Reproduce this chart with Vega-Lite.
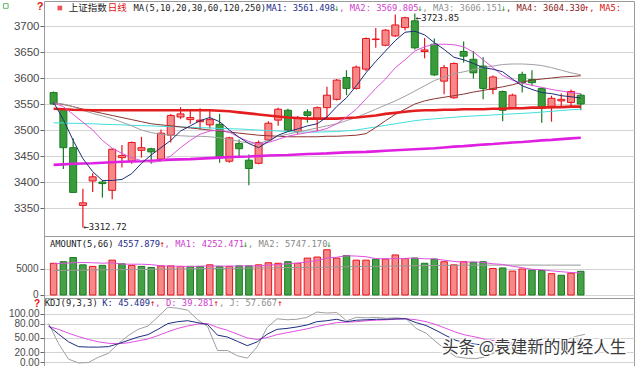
{
"$schema":"https://vega.github.io/schema/vega-lite/v6.json",
"background":"white","padding":0,"spacing":0,"bounds":"flush",
"config":{"view":{"stroke":"#9a9a9a"},"axis":{"grid":true,"gridColor":"#d4d4d4","domain":false,"tickColor":"#666","tickSize":4,"labelColor":"#4a4a4a","labelFont":"Liberation Sans","labelFontSize":11,"labelPadding":1,"labelOverlap":false,"labelFlush":false,"labelBound":false}},
"datasets":{"k":[
{"i":1,"o":3572,"h":3574,"l":3548,"c":3550,"v":6100,"m5":3553,"m10":3552,"m20":3552,"m30":3553,"m60":3541,"m120":3514,"m250":3433,"vm5":6000,"vm66":4700,"K":75,"D":74,"J":80},
{"i":2,"o":3540,"h":3542,"l":3425,"c":3466,"v":6400,"m5":3520,"m10":3545,"m20":3550,"m30":3549,"m60":3540,"m120":3513.5,"m250":3434,"vm5":6100,"vm66":4720,"K":58,"D":68,"J":38},
{"i":3,"o":3466,"h":3484,"l":3380,"c":3380,"v":7200,"m5":3480,"m10":3530,"m20":3545,"m30":3545,"m60":3539,"m120":3513,"m250":3435,"vm5":6200,"vm66":4750,"K":42,"D":60,"J":6},
{"i":4,"o":3355,"h":3387,"l":3312.72,"c":3360,"v":5800,"m5":3445,"m10":3515,"m20":3538,"m30":3540,"m60":3538.5,"m120":3512.5,"m250":3435.5,"vm5":6250,"vm66":4770,"K":32,"D":53,"J":-2},
{"i":5,"o":3402,"h":3417,"l":3381,"c":3410,"v":5500,"m5":3420,"m10":3500,"m20":3532,"m30":3536,"m60":3538,"m120":3512,"m250":3436,"vm5":6200,"vm66":4800,"K":31,"D":47,"J":-1},
{"i":6,"o":3400,"h":3404,"l":3370,"c":3397,"v":5700,"m5":3403,"m10":3480,"m20":3527,"m30":3532,"m60":3538,"m120":3511,"m250":3437,"vm5":6120,"vm66":4820,"K":31,"D":42,"J":10},
{"i":7,"o":3384,"h":3465,"l":3367,"c":3463,"v":6700,"m5":3403,"m10":3465,"m20":3522,"m30":3528,"m60":3538,"m120":3510.5,"m250":3438,"vm5":6180,"vm66":4840,"K":32,"D":39,"J":18},
{"i":8,"o":3447,"h":3471,"l":3428,"c":3451,"v":6000,"m5":3405,"m10":3455,"m20":3515,"m30":3524,"m60":3538,"m120":3510,"m250":3439,"vm5":5940,"vm66":4870,"K":38,"D":38,"J":38},
{"i":9,"o":3440,"h":3478,"l":3435,"c":3476,"v":5700,"m5":3416,"m10":3447,"m20":3508,"m30":3520,"m60":3538,"m120":3509,"m250":3439.5,"vm5":5920,"vm66":4890,"K":45,"D":40,"J":55},
{"i":10,"o":3461,"h":3487,"l":3447,"c":3466,"v":5500,"m5":3436,"m10":3441,"m20":3500,"m30":3516,"m60":3538,"m120":3508.5,"m250":3440,"vm5":5920,"vm66":4910,"K":52,"D":44,"J":68},
{"i":11,"o":3464,"h":3466,"l":3435,"c":3458,"v":5300,"m5":3452,"m10":3438,"m20":3495,"m30":3512,"m60":3538,"m120":3508,"m250":3441,"vm5":5840,"vm66":4940,"K":57,"D":48,"J":75},
{"i":12,"o":3444,"h":3501,"l":3442,"c":3494,"v":5600,"m5":3466,"m10":3440,"m20":3492,"m30":3510,"m60":3538,"m120":3507,"m250":3442,"vm5":5620,"vm66":4960,"K":68,"D":55,"J":94},
{"i":13,"o":3490,"h":3531,"l":3476,"c":3528,"v":5600,"m5":3480,"m10":3450,"m20":3490,"m30":3508,"m60":3538,"m120":3506.5,"m250":3443,"vm5":5540,"vm66":4990,"K":80,"D":63,"J":114},
{"i":14,"o":3525,"h":3544,"l":3521,"c":3531,"v":5500,"m5":3498,"m10":3466,"m20":3489,"m30":3506,"m60":3538,"m120":3506,"m250":3443.5,"vm5":5500,"vm66":5010,"K":84,"D":70,"J":112},
{"i":15,"o":3520,"h":3538,"l":3512,"c":3524,"v":5500,"m5":3508,"m10":3480,"m20":3488,"m30":3504,"m60":3538,"m120":3505,"m250":3444,"vm5":5500,"vm66":5030,"K":86,"D":75,"J":108},
{"i":16,"o":3516,"h":3542,"l":3501,"c":3519,"v":5500,"m5":3518,"m10":3492,"m20":3488,"m30":3502,"m60":3538,"m120":3504.5,"m250":3445,"vm5":5540,"vm66":5060,"K":82,"D":79,"J":88},
{"i":17,"o":3510,"h":3540,"l":3503,"c":3520,"v":5800,"m5":3524,"m10":3498,"m20":3487,"m30":3500,"m60":3538,"m120":3504,"m250":3446,"vm5":5580,"vm66":5080,"K":78,"D":80,"J":74},
{"i":18,"o":3511,"h":3531,"l":3437,"c":3447,"v":5500,"m5":3516,"m10":3500,"m20":3485,"m30":3498,"m60":3537,"m120":3503,"m250":3447,"vm5":5560,"vm66":5100,"K":56,"D":72,"J":24},
{"i":19,"o":3440,"h":3487,"l":3437,"c":3485,"v":5500,"m5":3500,"m10":3496,"m20":3482,"m30":3496,"m60":3536,"m120":3502.5,"m250":3448,"vm5":5560,"vm66":5130,"K":52,"D":66,"J":24},
{"i":20,"o":3474,"h":3482,"l":3446,"c":3464,"v":5600,"m5":3486,"m10":3486,"m20":3478,"m30":3494,"m60":3534,"m120":3502,"m250":3448.5,"vm5":5580,"vm66":5150,"K":43,"D":58,"J":13},
{"i":21,"o":3442,"h":3453,"l":3394,"c":3426,"v":5600,"m5":3474,"m10":3478,"m20":3475,"m30":3492,"m60":3532,"m120":3501,"m250":3449,"vm5":5600,"vm66":5170,"K":34,"D":50,"J":8},
{"i":22,"o":3436,"h":3480,"l":3434,"c":3476,"v":5800,"m5":3466,"m10":3473,"m20":3474,"m30":3490,"m60":3530,"m120":3500,"m250":3450,"vm5":5600,"vm66":5200,"K":42,"D":47,"J":32},
{"i":23,"o":3481,"h":3517,"l":3480,"c":3513,"v":6200,"m5":3478,"m10":3476,"m20":3480,"m30":3489,"m60":3528,"m120":3499,"m250":3451,"vm5":5740,"vm66":5220,"K":58,"D":51,"J":72},
{"i":24,"o":3519,"h":3543,"l":3508,"c":3540,"v":6100,"m5":3490,"m10":3482,"m20":3488,"m30":3488,"m60":3526,"m120":3498,"m250":3451.5,"vm5":5860,"vm66":5250,"K":68,"D":57,"J":90},
{"i":25,"o":3538,"h":3541,"l":3498,"c":3500,"v":6400,"m5":3497,"m10":3488,"m20":3492,"m30":3487,"m60":3524,"m120":3497,"m250":3452,"vm5":6020,"vm66":5270,"K":70,"D":61,"J":88},
{"i":26,"o":3497,"h":3527,"l":3492,"c":3524,"v":6100,"m5":3502,"m10":3492,"m20":3496,"m30":3487,"m60":3523,"m120":3496.5,"m250":3453,"vm5":6120,"vm66":5290,"K":73,"D":65,"J":89},
{"i":27,"o":3535,"h":3540,"l":3514,"c":3528,"v":7100,"m5":3508,"m10":3495,"m20":3500,"m30":3487,"m60":3522,"m120":3496,"m250":3454,"vm5":6380,"vm66":5320,"K":77,"D":69,"J":93},
{"i":28,"o":3521,"h":3545,"l":3498,"c":3543,"v":7300,"m5":3512,"m10":3498,"m20":3504,"m30":3487,"m60":3522,"m120":3496,"m250":3454.5,"vm5":6600,"vm66":5340,"K":84,"D":74,"J":104},
{"i":29,"o":3543,"h":3583,"l":3521,"c":3567,"v":8700,"m5":3525,"m10":3503,"m20":3508,"m30":3488,"m60":3522,"m120":3496.5,"m250":3455,"vm5":7120,"vm66":5370,"K":86,"D":78,"J":102},
{"i":30,"o":3559,"h":3598,"l":3557,"c":3596,"v":7100,"m5":3545,"m10":3512,"m20":3512,"m30":3488,"m60":3522,"m120":3497,"m250":3456,"vm5":7260,"vm66":5400,"K":89,"D":82,"J":103},
{"i":31,"o":3601,"h":3615,"l":3567,"c":3580,"v":7600,"m5":3562,"m10":3525,"m20":3518,"m30":3489,"m60":3523,"m120":3498.5,"m250":3457,"vm5":7560,"vm66":5430,"K":84,"D":83,"J":86},
{"i":32,"o":3580,"h":3624,"l":3578,"c":3621,"v":6700,"m5":3585,"m10":3540,"m20":3524,"m30":3490,"m60":3524,"m120":3500,"m250":3457.5,"vm5":7480,"vm66":5460,"K":87,"D":84,"J":93},
{"i":33,"o":3617,"h":3678,"l":3613,"c":3676,"v":6700,"m5":3610,"m10":3560,"m20":3532,"m30":3493,"m60":3526,"m120":3503,"m250":3458,"vm5":7360,"vm66":5490,"K":88,"D":86,"J":92},
{"i":34,"o":3674,"h":3696,"l":3658,"c":3675,"v":6900,"m5":3632,"m10":3580,"m20":3540,"m30":3505,"m60":3528,"m120":3506,"m250":3459,"vm5":7000,"vm66":5510,"K":89,"D":87,"J":93},
{"i":35,"o":3663,"h":3694,"l":3661,"c":3692,"v":6900,"m5":3652,"m10":3598,"m20":3548,"m30":3518,"m60":3531,"m120":3509,"m250":3460,"vm5":6960,"vm66":5540,"K":89,"D":88,"J":91},
{"i":36,"o":3681,"h":3722,"l":3679,"c":3702,"v":7700,"m5":3672,"m10":3620,"m20":3556,"m30":3530,"m60":3533,"m120":3512,"m250":3461,"vm5":6980,"vm66":5570,"K":90,"D":89,"J":92},
{"i":37,"o":3697,"h":3718,"l":3692,"c":3716,"v":7000,"m5":3688,"m10":3635,"m20":3565,"m30":3540,"m60":3535,"m120":3515,"m250":3462,"vm5":7040,"vm66":5600,"K":90,"D":90,"J":90},
{"i":38,"o":3710,"h":3723.85,"l":3655,"c":3658,"v":7100,"m5":3690,"m10":3652,"m20":3575,"m30":3550,"m60":3537,"m120":3518,"m250":3463,"vm5":7120,"vm66":5620,"K":82,"D":88,"J":70},
{"i":39,"o":3651,"h":3677,"l":3638,"c":3654,"v":6100,"m5":3683,"m10":3660,"m20":3585,"m30":3556,"m60":3538,"m120":3520,"m250":3464,"vm5":6960,"vm66":5650,"K":76,"D":84,"J":60},
{"i":40,"o":3665,"h":3676,"l":3604,"c":3606,"v":6900,"m5":3668,"m10":3665,"m20":3595,"m30":3560,"m60":3538,"m120":3521.5,"m250":3465,"vm5":6960,"vm66":5670,"K":66,"D":78,"J":42},
{"i":41,"o":3594,"h":3625,"l":3569,"c":3620,"v":6400,"m5":3655,"m10":3665,"m20":3602,"m30":3563,"m60":3539,"m120":3523,"m250":3466.5,"vm5":6700,"vm66":5690,"K":55,"D":70,"J":25},
{"i":42,"o":3562,"h":3630,"l":3560,"c":3628,"v":5800,"m5":3640,"m10":3664,"m20":3608,"m30":3566,"m60":3539,"m120":3524.5,"m250":3468,"vm5":6460,"vm66":5710,"K":45,"D":62,"J":11},
{"i":43,"o":3651,"h":3670,"l":3630,"c":3642,"v":6400,"m5":3635,"m10":3660,"m20":3612,"m30":3569,"m60":3540,"m120":3526,"m250":3469,"vm5":6320,"vm66":5720,"K":40,"D":56,"J":8},
{"i":44,"o":3636,"h":3652,"l":3599,"c":3610,"v":6300,"m5":3628,"m10":3650,"m20":3616,"m30":3573,"m60":3540,"m120":3527,"m250":3470.5,"vm5":6360,"vm66":5730,"K":37,"D":52,"J":7},
{"i":45,"o":3623,"h":3640,"l":3559,"c":3580,"v":6400,"m5":3620,"m10":3635,"m20":3620,"m30":3576,"m60":3540,"m120":3528,"m250":3472,"vm5":6260,"vm66":5740,"K":35,"D":47,"J":11},
{"i":46,"o":3578,"h":3605,"l":3569,"c":3602,"v":5100,"m5":3617,"m10":3620,"m20":3623,"m30":3580,"m60":3541,"m120":3529,"m250":3473,"vm5":6000,"vm66":5750,"K":36,"D":44,"J":20},
{"i":47,"o":3574,"h":3576,"l":3517,"c":3538,"v":5200,"m5":3612,"m10":3605,"m20":3626,"m30":3583,"m60":3541,"m120":3530,"m250":3474.5,"vm5":5880,"vm66":5755,"K":33,"D":40,"J":19},
{"i":48,"o":3542,"h":3570,"l":3541,"c":3567,"v":4600,"m5":3598,"m10":3596,"m20":3627,"m30":3587,"m60":3542,"m120":3531,"m250":3476,"vm5":5520,"vm66":5755,"K":38,"D":39,"J":36},
{"i":49,"o":3607,"h":3612,"l":3572,"c":3591,"v":5000,"m5":3585,"m10":3590,"m20":3627,"m30":3592,"m60":3542,"m120":3532,"m250":3477,"vm5":5260,"vm66":5755,"K":40,"D":39,"J":42},
{"i":50,"o":3597,"h":3615,"l":3585,"c":3591,"v":4800,"m5":3578,"m10":3586,"m20":3626,"m30":3596,"m60":3543,"m120":3533,"m250":3478.5,"vm5":4940,"vm66":5752,"K":41,"D":40,"J":43},
{"i":51,"o":3580,"h":3582,"l":3514,"c":3542,"v":4700,"m5":3572,"m10":3582,"m20":3624,"m30":3598,"m60":3543,"m120":3534.5,"m250":3480,"vm5":4860,"vm66":5750,"K":37,"D":39,"J":33},
{"i":52,"o":3543,"h":3566,"l":3516,"c":3561,"v":4100,"m5":3570,"m10":3578,"m20":3620,"m30":3600,"m60":3544,"m120":3536,"m250":3481,"vm5":4640,"vm66":5750,"K":40,"D":39,"J":42},
{"i":53,"o":3556,"h":3570,"l":3545,"c":3559,"v":3800,"m5":3566,"m10":3575,"m20":3615,"m30":3602,"m60":3544,"m120":3537.5,"m250":3482.5,"vm5":4480,"vm66":5748,"K":41,"D":39,"J":45},
{"i":54,"o":3553,"h":3578,"l":3544,"c":3574,"v":4200,"m5":3564,"m10":3572,"m20":3610,"m30":3603,"m60":3545,"m120":3539,"m250":3484,"vm5":4320,"vm66":5748,"K":43,"D":38,"J":53},
{"i":55,"o":3567,"h":3570,"l":3538,"c":3550,"v":4560,"m5":3561.5,"m10":3569.8,"m20":3606.2,"m30":3604.3,"m60":3545,"m120":3540,"m250":3485,"vm5":4252,"vm66":5747,"K":45.4,"D":39.3,"J":57.7}
]},
"vconcat":[
{"width":590,"height":235,"data":{"name":"k"},
"layer":[
{"mark":{"type":"rule","strokeWidth":1.2},"encoding":{"x":{"field":"i","type":"quantitative","scale":{"domain":[0.527,59.94],"nice":false,"zero":false},"axis":null},"y":{"field":"l","type":"quantitative","title":null,"scale":{"domain":[3296.2,3748.1],"nice":false,"zero":false},"axis":{"values":[3350,3400,3450,3500,3550,3600,3650,3700],"format":"d","title":null,"labelFontSize":11.5,"labelOverlap":false,"grid":true,"gridColor":"#d4d4d4"}},"y2":{"field":"h"},"color":{"condition":{"test":"datum.c >= datum.o","value":"#e8141c"},"value":"#187a22"}}},
{"mark":{"type":"bar","size":7,"orient":"vertical","strokeWidth":1},"encoding":{"x":{"field":"i","type":"quantitative","scale":{"domain":[0.527,59.94],"nice":false,"zero":false},"axis":null},"y":{"field":"o","type":"quantitative","title":null,"scale":{"domain":[3296.2,3748.1],"nice":false,"zero":false},"axis":{"values":[3350,3400,3450,3500,3550,3600,3650,3700],"format":"d","title":null,"labelFontSize":11.5,"labelOverlap":false,"grid":true,"gridColor":"#d4d4d4"}},"y2":{"field":"c"},"fill":{"condition":{"test":"datum.c >= datum.o","value":"#f58888"},"value":"#3a9b3a"},"stroke":{"condition":{"test":"datum.c >= datum.o","value":"#e8141c"},"value":"#187a22"}}},
{"mark":{"type":"line","strokeWidth":2.6,"color":"#e020e0","clip":true},"encoding":{"x":{"field":"i","type":"quantitative","scale":{"domain":[0.527,59.94],"nice":false,"zero":false},"axis":null},"y":{"field":"m250","type":"quantitative","title":null,"scale":{"domain":[3296.2,3748.1],"nice":false,"zero":false},"axis":{"values":[3350,3400,3450,3500,3550,3600,3650,3700],"format":"d","title":null,"labelFontSize":11.5,"labelOverlap":false,"grid":true,"gridColor":"#d4d4d4"}}}},
{"mark":{"type":"line","strokeWidth":1,"color":"#44dede","clip":true},"encoding":{"x":{"field":"i","type":"quantitative","scale":{"domain":[0.527,59.94],"nice":false,"zero":false},"axis":null},"y":{"field":"m120","type":"quantitative","title":null,"scale":{"domain":[3296.2,3748.1],"nice":false,"zero":false},"axis":{"values":[3350,3400,3450,3500,3550,3600,3650,3700],"format":"d","title":null,"labelFontSize":11.5,"labelOverlap":false,"grid":true,"gridColor":"#d4d4d4"}}}},
{"mark":{"type":"line","strokeWidth":1,"color":"#8b3535","clip":true},"encoding":{"x":{"field":"i","type":"quantitative","scale":{"domain":[0.527,59.94],"nice":false,"zero":false},"axis":null},"y":{"field":"m30","type":"quantitative","title":null,"scale":{"domain":[3296.2,3748.1],"nice":false,"zero":false},"axis":{"values":[3350,3400,3450,3500,3550,3600,3650,3700],"format":"d","title":null,"labelFontSize":11.5,"labelOverlap":false,"grid":true,"gridColor":"#d4d4d4"}}}},
{"mark":{"type":"line","strokeWidth":1,"color":"#a0a0a0","clip":true},"encoding":{"x":{"field":"i","type":"quantitative","scale":{"domain":[0.527,59.94],"nice":false,"zero":false},"axis":null},"y":{"field":"m20","type":"quantitative","title":null,"scale":{"domain":[3296.2,3748.1],"nice":false,"zero":false},"axis":{"values":[3350,3400,3450,3500,3550,3600,3650,3700],"format":"d","title":null,"labelFontSize":11.5,"labelOverlap":false,"grid":true,"gridColor":"#d4d4d4"}}}},
{"mark":{"type":"line","strokeWidth":2.6,"color":"#e41e1e","clip":true},"encoding":{"x":{"field":"i","type":"quantitative","scale":{"domain":[0.527,59.94],"nice":false,"zero":false},"axis":null},"y":{"field":"m60","type":"quantitative","title":null,"scale":{"domain":[3296.2,3748.1],"nice":false,"zero":false},"axis":{"values":[3350,3400,3450,3500,3550,3600,3650,3700],"format":"d","title":null,"labelFontSize":11.5,"labelOverlap":false,"grid":true,"gridColor":"#d4d4d4"}}}},
{"mark":{"type":"line","strokeWidth":1,"color":"#dd55dd","clip":true},"encoding":{"x":{"field":"i","type":"quantitative","scale":{"domain":[0.527,59.94],"nice":false,"zero":false},"axis":null},"y":{"field":"m10","type":"quantitative","title":null,"scale":{"domain":[3296.2,3748.1],"nice":false,"zero":false},"axis":{"values":[3350,3400,3450,3500,3550,3600,3650,3700],"format":"d","title":null,"labelFontSize":11.5,"labelOverlap":false,"grid":true,"gridColor":"#d4d4d4"}}}},
{"mark":{"type":"line","strokeWidth":1,"color":"#1f2f78","clip":true},"encoding":{"x":{"field":"i","type":"quantitative","scale":{"domain":[0.527,59.94],"nice":false,"zero":false},"axis":null},"y":{"field":"m5","type":"quantitative","title":null,"scale":{"domain":[3296.2,3748.1],"nice":false,"zero":false},"axis":{"values":[3350,3400,3450,3500,3550,3600,3650,3700],"format":"d","title":null,"labelFontSize":11.5,"labelOverlap":false,"grid":true,"gridColor":"#d4d4d4"}}}},
{"data":{"values":[{}]},"mark":{"type":"point","shape":"square","size":22,"filled":false,"stroke":"#2a9a2a","strokeWidth":1},"encoding":{"x":{"datum":-3.9,"type":"quantitative","scale":{"domain":[0.527,59.94],"nice":false,"zero":false},"axis":null},"y":{"datum":3738.5,"type":"quantitative","title":null,"scale":{"domain":[3296.2,3748.1],"nice":false,"zero":false},"axis":{"values":[3350,3400,3450,3500,3550,3600,3650,3700],"format":"d","title":null,"labelFontSize":11.5,"labelOverlap":false,"grid":true,"gridColor":"#d4d4d4"}}}},
{"data":{"values":[{}]},"mark":{"type":"text","text":"?","align":"center","baseline":"middle","font":"Liberation Sans","fontSize":11,"fontWeight":"bold","color":"#e01010"},"encoding":{"x":{"datum":-0.38,"type":"quantitative","scale":{"domain":[0.527,59.94],"nice":false,"zero":false},"axis":null},"y":{"datum":3736,"type":"quantitative","title":null,"scale":{"domain":[3296.2,3748.1],"nice":false,"zero":false},"axis":{"values":[3350,3400,3450,3500,3550,3600,3650,3700],"format":"d","title":null,"labelFontSize":11.5,"labelOverlap":false,"grid":true,"gridColor":"#d4d4d4"}}}},
{"data":{"values":[{}]},"mark":{"type":"point","shape":"square","size":22,"filled":true,"color":"#e01010"},"encoding":{"x":{"datum":1.635,"type":"quantitative","scale":{"domain":[0.527,59.94],"nice":false,"zero":false},"axis":null},"y":{"datum":3734.6,"type":"quantitative","title":null,"scale":{"domain":[3296.2,3748.1],"nice":false,"zero":false},"axis":{"values":[3350,3400,3450,3500,3550,3600,3650,3700],"format":"d","title":null,"labelFontSize":11.5,"labelOverlap":false,"grid":true,"gridColor":"#d4d4d4"}}}},
{"data":{"values":[{}]},"mark":{"type":"text","text":"上证指数","align":"left","baseline":"middle","font":"Noto Sans CJK SC","fontSize":9.5,"color":"#222222"},"encoding":{"x":{"datum":2.54,"type":"quantitative","scale":{"domain":[0.527,59.94],"nice":false,"zero":false},"axis":null},"y":{"datum":3734.6,"type":"quantitative","title":null,"scale":{"domain":[3296.2,3748.1],"nice":false,"zero":false},"axis":{"values":[3350,3400,3450,3500,3550,3600,3650,3700],"format":"d","title":null,"labelFontSize":11.5,"labelOverlap":false,"grid":true,"gridColor":"#d4d4d4"}}}},
{"data":{"values":[{}]},"mark":{"type":"text","text":"日线","align":"left","baseline":"middle","font":"Noto Sans CJK SC","fontSize":9.5,"color":"#e01010"},"encoding":{"x":{"datum":6.55,"type":"quantitative","scale":{"domain":[0.527,59.94],"nice":false,"zero":false},"axis":null},"y":{"datum":3734.6,"type":"quantitative","title":null,"scale":{"domain":[3296.2,3748.1],"nice":false,"zero":false},"axis":{"values":[3350,3400,3450,3500,3550,3600,3650,3700],"format":"d","title":null,"labelFontSize":11.5,"labelOverlap":false,"grid":true,"gridColor":"#d4d4d4"}}}},
{"data":{"values":[{}]},"mark":{"type":"text","text":"MA(5,10,20,30,60,120,250)","align":"left","baseline":"middle","font":"DejaVu Sans Mono","fontSize":8.8,"color":"#222222"},"encoding":{"x":{"datum":9.19,"type":"quantitative","scale":{"domain":[0.527,59.94],"nice":false,"zero":false},"axis":null},"y":{"datum":3734.6,"type":"quantitative","title":null,"scale":{"domain":[3296.2,3748.1],"nice":false,"zero":false},"axis":{"values":[3350,3400,3450,3500,3550,3600,3650,3700],"format":"d","title":null,"labelFontSize":11.5,"labelOverlap":false,"grid":true,"gridColor":"#d4d4d4"}}}},
{"data":{"values":[{}]},"mark":{"type":"text","text":"MA1: 3561.498","align":"left","baseline":"middle","font":"DejaVu Sans Mono","fontSize":8.8,"color":"#1e2c8c"},"encoding":{"x":{"datum":22.78,"type":"quantitative","scale":{"domain":[0.527,59.94],"nice":false,"zero":false},"axis":null},"y":{"datum":3734.6,"type":"quantitative","title":null,"scale":{"domain":[3296.2,3748.1],"nice":false,"zero":false},"axis":{"values":[3350,3400,3450,3500,3550,3600,3650,3700],"format":"d","title":null,"labelFontSize":11.5,"labelOverlap":false,"grid":true,"gridColor":"#d4d4d4"}}}},
{"data":{"values":[{}]},"mark":{"type":"text","text":"↓","align":"left","baseline":"middle","font":"DejaVu Sans Mono","fontSize":8.8,"color":"#2a9a2a"},"encoding":{"x":{"datum":29.72,"type":"quantitative","scale":{"domain":[0.527,59.94],"nice":false,"zero":false},"axis":null},"y":{"datum":3734.6,"type":"quantitative","title":null,"scale":{"domain":[3296.2,3748.1],"nice":false,"zero":false},"axis":{"values":[3350,3400,3450,3500,3550,3600,3650,3700],"format":"d","title":null,"labelFontSize":11.5,"labelOverlap":false,"grid":true,"gridColor":"#d4d4d4"}}}},
{"data":{"values":[{}]},"mark":{"type":"text","text":", MA2: 3569.805","align":"left","baseline":"middle","font":"DejaVu Sans Mono","fontSize":8.8,"color":"#d040d0"},"encoding":{"x":{"datum":30.25,"type":"quantitative","scale":{"domain":[0.527,59.94],"nice":false,"zero":false},"axis":null},"y":{"datum":3734.6,"type":"quantitative","title":null,"scale":{"domain":[3296.2,3748.1],"nice":false,"zero":false},"axis":{"values":[3350,3400,3450,3500,3550,3600,3650,3700],"format":"d","title":null,"labelFontSize":11.5,"labelOverlap":false,"grid":true,"gridColor":"#d4d4d4"}}}},
{"data":{"values":[{}]},"mark":{"type":"text","text":"↓","align":"left","baseline":"middle","font":"DejaVu Sans Mono","fontSize":8.8,"color":"#2a9a2a"},"encoding":{"x":{"datum":38.26,"type":"quantitative","scale":{"domain":[0.527,59.94],"nice":false,"zero":false},"axis":null},"y":{"datum":3734.6,"type":"quantitative","title":null,"scale":{"domain":[3296.2,3748.1],"nice":false,"zero":false},"axis":{"values":[3350,3400,3450,3500,3550,3600,3650,3700],"format":"d","title":null,"labelFontSize":11.5,"labelOverlap":false,"grid":true,"gridColor":"#d4d4d4"}}}},
{"data":{"values":[{}]},"mark":{"type":"text","text":", MA3: 3606.151","align":"left","baseline":"middle","font":"DejaVu Sans Mono","fontSize":8.8,"color":"#909090"},"encoding":{"x":{"datum":38.79,"type":"quantitative","scale":{"domain":[0.527,59.94],"nice":false,"zero":false},"axis":null},"y":{"datum":3734.6,"type":"quantitative","title":null,"scale":{"domain":[3296.2,3748.1],"nice":false,"zero":false},"axis":{"values":[3350,3400,3450,3500,3550,3600,3650,3700],"format":"d","title":null,"labelFontSize":11.5,"labelOverlap":false,"grid":true,"gridColor":"#d4d4d4"}}}},
{"data":{"values":[{}]},"mark":{"type":"text","text":"↓","align":"left","baseline":"middle","font":"DejaVu Sans Mono","fontSize":8.8,"color":"#2a9a2a"},"encoding":{"x":{"datum":46.8,"type":"quantitative","scale":{"domain":[0.527,59.94],"nice":false,"zero":false},"axis":null},"y":{"datum":3734.6,"type":"quantitative","title":null,"scale":{"domain":[3296.2,3748.1],"nice":false,"zero":false},"axis":{"values":[3350,3400,3450,3500,3550,3600,3650,3700],"format":"d","title":null,"labelFontSize":11.5,"labelOverlap":false,"grid":true,"gridColor":"#d4d4d4"}}}},
{"data":{"values":[{}]},"mark":{"type":"text","text":", MA4: 3604.330","align":"left","baseline":"middle","font":"DejaVu Sans Mono","fontSize":8.8,"color":"#8b2020"},"encoding":{"x":{"datum":47.33,"type":"quantitative","scale":{"domain":[0.527,59.94],"nice":false,"zero":false},"axis":null},"y":{"datum":3734.6,"type":"quantitative","title":null,"scale":{"domain":[3296.2,3748.1],"nice":false,"zero":false},"axis":{"values":[3350,3400,3450,3500,3550,3600,3650,3700],"format":"d","title":null,"labelFontSize":11.5,"labelOverlap":false,"grid":true,"gridColor":"#d4d4d4"}}}},
{"data":{"values":[{}]},"mark":{"type":"text","text":"↑","align":"left","baseline":"middle","font":"DejaVu Sans Mono","fontSize":8.8,"color":"#e01010"},"encoding":{"x":{"datum":55.34,"type":"quantitative","scale":{"domain":[0.527,59.94],"nice":false,"zero":false},"axis":null},"y":{"datum":3734.6,"type":"quantitative","title":null,"scale":{"domain":[3296.2,3748.1],"nice":false,"zero":false},"axis":{"values":[3350,3400,3450,3500,3550,3600,3650,3700],"format":"d","title":null,"labelFontSize":11.5,"labelOverlap":false,"grid":true,"gridColor":"#d4d4d4"}}}},
{"data":{"values":[{}]},"mark":{"type":"text","text":", MA5:","align":"left","baseline":"middle","font":"DejaVu Sans Mono","fontSize":8.8,"color":"#e01010"},"encoding":{"x":{"datum":55.87,"type":"quantitative","scale":{"domain":[0.527,59.94],"nice":false,"zero":false},"axis":null},"y":{"datum":3734.6,"type":"quantitative","title":null,"scale":{"domain":[3296.2,3748.1],"nice":false,"zero":false},"axis":{"values":[3350,3400,3450,3500,3550,3600,3650,3700],"format":"d","title":null,"labelFontSize":11.5,"labelOverlap":false,"grid":true,"gridColor":"#d4d4d4"}}}},
{"data":{"values":[{}]},"mark":{"type":"text","text":"←3312.72","align":"left","baseline":"middle","font":"DejaVu Sans Mono","fontSize":9,"color":"#222222"},"encoding":{"x":{"datum":4.05,"type":"quantitative","scale":{"domain":[0.527,59.94],"nice":false,"zero":false},"axis":null},"y":{"datum":3313,"type":"quantitative","title":null,"scale":{"domain":[3296.2,3748.1],"nice":false,"zero":false},"axis":{"values":[3350,3400,3450,3500,3550,3600,3650,3700],"format":"d","title":null,"labelFontSize":11.5,"labelOverlap":false,"grid":true,"gridColor":"#d4d4d4"}}}},
{"data":{"values":[{}]},"mark":{"type":"text","text":"←3723.85","align":"left","baseline":"middle","font":"DejaVu Sans Mono","fontSize":9,"color":"#222222"},"encoding":{"x":{"datum":38.1,"type":"quantitative","scale":{"domain":[0.527,59.94],"nice":false,"zero":false},"axis":null},"y":{"datum":3714.5,"type":"quantitative","title":null,"scale":{"domain":[3296.2,3748.1],"nice":false,"zero":false},"axis":{"values":[3350,3400,3450,3500,3550,3600,3650,3700],"format":"d","title":null,"labelFontSize":11.5,"labelOverlap":false,"grid":true,"gridColor":"#d4d4d4"}}}}
]},
{"width":590,"height":62,"data":{"name":"k"},
"transform":[{"window":[{"op":"lag","field":"c","as":"pc"}],"sort":[{"field":"i"}]}],
"layer":[
{"mark":{"type":"bar","size":6.5,"orient":"vertical","strokeWidth":1},"encoding":{"x":{"field":"i","type":"quantitative","scale":{"domain":[0.527,59.94],"nice":false,"zero":false},"axis":null},"y":{"field":"v","type":"quantitative","title":null,"scale":{"domain":[-577,11346],"nice":false,"zero":false},"axis":{"values":[0,5000],"format":"d","title":null,"labelFontSize":10,"labelPadding":2,"labelOverlap":false,"grid":true,"gridColor":"#d4d4d4"}},"fill":{"condition":{"test":"datum.c > datum.pc","value":"#f58888"},"value":"#46a046"},"stroke":{"condition":{"test":"datum.c > datum.pc","value":"#e8141c"},"value":"#187a22"}}},
{"mark":{"type":"line","strokeWidth":1,"color":"#999999","clip":true},"encoding":{"x":{"field":"i","type":"quantitative","scale":{"domain":[0.527,59.94],"nice":false,"zero":false},"axis":null},"y":{"field":"vm66","type":"quantitative","title":null,"scale":{"domain":[-577,11346],"nice":false,"zero":false},"axis":{"values":[0,5000],"format":"d","title":null,"labelFontSize":10,"labelPadding":2,"labelOverlap":false,"grid":true,"gridColor":"#d4d4d4"}}}},
{"mark":{"type":"line","strokeWidth":1,"color":"#e050e0","clip":true},"encoding":{"x":{"field":"i","type":"quantitative","scale":{"domain":[0.527,59.94],"nice":false,"zero":false},"axis":null},"y":{"field":"vm5","type":"quantitative","title":null,"scale":{"domain":[-577,11346],"nice":false,"zero":false},"axis":{"values":[0,5000],"format":"d","title":null,"labelFontSize":10,"labelPadding":2,"labelOverlap":false,"grid":true,"gridColor":"#d4d4d4"}}}},
{"data":{"values":[{}]},"mark":{"type":"text","text":"AMOUNT(5,66)","align":"left","baseline":"middle","font":"DejaVu Sans Mono","fontSize":8.8,"color":"#222222"},"encoding":{"x":{"datum":0.63,"type":"quantitative","scale":{"domain":[0.527,59.94],"nice":false,"zero":false},"axis":null},"y":{"datum":9808,"type":"quantitative","title":null,"scale":{"domain":[-577,11346],"nice":false,"zero":false},"axis":{"values":[0,5000],"format":"d","title":null,"labelFontSize":10,"labelPadding":2,"labelOverlap":false,"grid":true,"gridColor":"#d4d4d4"}}}},
{"data":{"values":[{}]},"mark":{"type":"text","text":"4557.879","align":"left","baseline":"middle","font":"DejaVu Sans Mono","fontSize":8.8,"color":"#1e2c8c"},"encoding":{"x":{"datum":7.57,"type":"quantitative","scale":{"domain":[0.527,59.94],"nice":false,"zero":false},"axis":null},"y":{"datum":9808,"type":"quantitative","title":null,"scale":{"domain":[-577,11346],"nice":false,"zero":false},"axis":{"values":[0,5000],"format":"d","title":null,"labelFontSize":10,"labelPadding":2,"labelOverlap":false,"grid":true,"gridColor":"#d4d4d4"}}}},
{"data":{"values":[{}]},"mark":{"type":"text","text":"↑","align":"left","baseline":"middle","font":"DejaVu Sans Mono","fontSize":8.8,"color":"#e01010"},"encoding":{"x":{"datum":11.84,"type":"quantitative","scale":{"domain":[0.527,59.94],"nice":false,"zero":false},"axis":null},"y":{"datum":9808,"type":"quantitative","title":null,"scale":{"domain":[-577,11346],"nice":false,"zero":false},"axis":{"values":[0,5000],"format":"d","title":null,"labelFontSize":10,"labelPadding":2,"labelOverlap":false,"grid":true,"gridColor":"#d4d4d4"}}}},
{"data":{"values":[{}]},"mark":{"type":"text","text":", MA1: 4252.471","align":"left","baseline":"middle","font":"DejaVu Sans Mono","fontSize":8.8,"color":"#d040d0"},"encoding":{"x":{"datum":12.37,"type":"quantitative","scale":{"domain":[0.527,59.94],"nice":false,"zero":false},"axis":null},"y":{"datum":9808,"type":"quantitative","title":null,"scale":{"domain":[-577,11346],"nice":false,"zero":false},"axis":{"values":[0,5000],"format":"d","title":null,"labelFontSize":10,"labelPadding":2,"labelOverlap":false,"grid":true,"gridColor":"#d4d4d4"}}}},
{"data":{"values":[{}]},"mark":{"type":"text","text":"↓","align":"left","baseline":"middle","font":"DejaVu Sans Mono","fontSize":8.8,"color":"#2a9a2a"},"encoding":{"x":{"datum":20.37,"type":"quantitative","scale":{"domain":[0.527,59.94],"nice":false,"zero":false},"axis":null},"y":{"datum":9808,"type":"quantitative","title":null,"scale":{"domain":[-577,11346],"nice":false,"zero":false},"axis":{"values":[0,5000],"format":"d","title":null,"labelFontSize":10,"labelPadding":2,"labelOverlap":false,"grid":true,"gridColor":"#d4d4d4"}}}},
{"data":{"values":[{}]},"mark":{"type":"text","text":", MA2: 5747.170","align":"left","baseline":"middle","font":"DejaVu Sans Mono","fontSize":8.8,"color":"#888888"},"encoding":{"x":{"datum":20.91,"type":"quantitative","scale":{"domain":[0.527,59.94],"nice":false,"zero":false},"axis":null},"y":{"datum":9808,"type":"quantitative","title":null,"scale":{"domain":[-577,11346],"nice":false,"zero":false},"axis":{"values":[0,5000],"format":"d","title":null,"labelFontSize":10,"labelPadding":2,"labelOverlap":false,"grid":true,"gridColor":"#d4d4d4"}}}},
{"data":{"values":[{}]},"mark":{"type":"text","text":"↓","align":"left","baseline":"middle","font":"DejaVu Sans Mono","fontSize":8.8,"color":"#2a9a2a"},"encoding":{"x":{"datum":28.92,"type":"quantitative","scale":{"domain":[0.527,59.94],"nice":false,"zero":false},"axis":null},"y":{"datum":9808,"type":"quantitative","title":null,"scale":{"domain":[-577,11346],"nice":false,"zero":false},"axis":{"values":[0,5000],"format":"d","title":null,"labelFontSize":10,"labelPadding":2,"labelOverlap":false,"grid":true,"gridColor":"#d4d4d4"}}}}
]},
{"width":590,"height":69,"data":{"name":"k"},
"layer":[
{"mark":{"type":"line","strokeWidth":1,"color":"#a0a0a0","clip":true},"encoding":{"x":{"field":"i","type":"quantitative","scale":{"domain":[0.527,59.94],"nice":false,"zero":false},"axis":null},"y":{"field":"J","type":"quantitative","title":null,"scale":{"domain":[-10.4,133.3],"nice":false,"zero":false},"axis":{"values":[0,20,50,80,100],"format":".2f","title":null,"labelFontSize":10,"labelPadding":1,"labelOverlap":false,"grid":true,"gridColor":"#d4d4d4"}}}},
{"mark":{"type":"line","strokeWidth":1,"color":"#e050e0","clip":true},"encoding":{"x":{"field":"i","type":"quantitative","scale":{"domain":[0.527,59.94],"nice":false,"zero":false},"axis":null},"y":{"field":"D","type":"quantitative","title":null,"scale":{"domain":[-10.4,133.3],"nice":false,"zero":false},"axis":{"values":[0,20,50,80,100],"format":".2f","title":null,"labelFontSize":10,"labelPadding":1,"labelOverlap":false,"grid":true,"gridColor":"#d4d4d4"}}}},
{"mark":{"type":"line","strokeWidth":1,"color":"#1e2c80","clip":true},"encoding":{"x":{"field":"i","type":"quantitative","scale":{"domain":[0.527,59.94],"nice":false,"zero":false},"axis":null},"y":{"field":"K","type":"quantitative","title":null,"scale":{"domain":[-10.4,133.3],"nice":false,"zero":false},"axis":{"values":[0,20,50,80,100],"format":".2f","title":null,"labelFontSize":10,"labelPadding":1,"labelOverlap":false,"grid":true,"gridColor":"#d4d4d4"}}}},
{"data":{"values":[{}]},"mark":{"type":"text","text":"?","align":"center","baseline":"middle","font":"Liberation Sans","fontSize":10,"fontWeight":"bold","color":"#e01010"},"encoding":{"x":{"datum":-0.18,"type":"quantitative","scale":{"domain":[0.527,59.94],"nice":false,"zero":false},"axis":null},"y":{"datum":120.8,"type":"quantitative","title":null,"scale":{"domain":[-10.4,133.3],"nice":false,"zero":false},"axis":{"values":[0,20,50,80,100],"format":".2f","title":null,"labelFontSize":10,"labelPadding":1,"labelOverlap":false,"grid":true,"gridColor":"#d4d4d4"}}}},
{"data":{"values":[{}]},"mark":{"type":"text","text":"KDJ(9,3,3)","align":"left","baseline":"middle","font":"DejaVu Sans Mono","fontSize":8.8,"color":"#222222"},"encoding":{"x":{"datum":0.6,"type":"quantitative","scale":{"domain":[0.527,59.94],"nice":false,"zero":false},"axis":null},"y":{"datum":123,"type":"quantitative","title":null,"scale":{"domain":[-10.4,133.3],"nice":false,"zero":false},"axis":{"values":[0,20,50,80,100],"format":".2f","title":null,"labelFontSize":10,"labelPadding":1,"labelOverlap":false,"grid":true,"gridColor":"#d4d4d4"}}}},
{"data":{"values":[{}]},"mark":{"type":"text","text":"K: 45.409","align":"left","baseline":"middle","font":"DejaVu Sans Mono","fontSize":8.8,"color":"#1e2c8c"},"encoding":{"x":{"datum":6.4,"type":"quantitative","scale":{"domain":[0.527,59.94],"nice":false,"zero":false},"axis":null},"y":{"datum":123,"type":"quantitative","title":null,"scale":{"domain":[-10.4,133.3],"nice":false,"zero":false},"axis":{"values":[0,20,50,80,100],"format":".2f","title":null,"labelFontSize":10,"labelPadding":1,"labelOverlap":false,"grid":true,"gridColor":"#d4d4d4"}}}},
{"data":{"values":[{}]},"mark":{"type":"text","text":"↑","align":"left","baseline":"middle","font":"DejaVu Sans Mono","fontSize":8.8,"color":"#e01010"},"encoding":{"x":{"datum":11.2,"type":"quantitative","scale":{"domain":[0.527,59.94],"nice":false,"zero":false},"axis":null},"y":{"datum":123,"type":"quantitative","title":null,"scale":{"domain":[-10.4,133.3],"nice":false,"zero":false},"axis":{"values":[0,20,50,80,100],"format":".2f","title":null,"labelFontSize":10,"labelPadding":1,"labelOverlap":false,"grid":true,"gridColor":"#d4d4d4"}}}},
{"data":{"values":[{}]},"mark":{"type":"text","text":", D: 39.281","align":"left","baseline":"middle","font":"DejaVu Sans Mono","fontSize":8.8,"color":"#d040d0"},"encoding":{"x":{"datum":11.74,"type":"quantitative","scale":{"domain":[0.527,59.94],"nice":false,"zero":false},"axis":null},"y":{"datum":123,"type":"quantitative","title":null,"scale":{"domain":[-10.4,133.3],"nice":false,"zero":false},"axis":{"values":[0,20,50,80,100],"format":".2f","title":null,"labelFontSize":10,"labelPadding":1,"labelOverlap":false,"grid":true,"gridColor":"#d4d4d4"}}}},
{"data":{"values":[{}]},"mark":{"type":"text","text":"↑","align":"left","baseline":"middle","font":"DejaVu Sans Mono","fontSize":8.8,"color":"#e01010"},"encoding":{"x":{"datum":17.6,"type":"quantitative","scale":{"domain":[0.527,59.94],"nice":false,"zero":false},"axis":null},"y":{"datum":123,"type":"quantitative","title":null,"scale":{"domain":[-10.4,133.3],"nice":false,"zero":false},"axis":{"values":[0,20,50,80,100],"format":".2f","title":null,"labelFontSize":10,"labelPadding":1,"labelOverlap":false,"grid":true,"gridColor":"#d4d4d4"}}}},
{"data":{"values":[{}]},"mark":{"type":"text","text":", J: 57.667","align":"left","baseline":"middle","font":"DejaVu Sans Mono","fontSize":8.8,"color":"#909090"},"encoding":{"x":{"datum":18.14,"type":"quantitative","scale":{"domain":[0.527,59.94],"nice":false,"zero":false},"axis":null},"y":{"datum":123,"type":"quantitative","title":null,"scale":{"domain":[-10.4,133.3],"nice":false,"zero":false},"axis":{"values":[0,20,50,80,100],"format":".2f","title":null,"labelFontSize":10,"labelPadding":1,"labelOverlap":false,"grid":true,"gridColor":"#d4d4d4"}}}},
{"data":{"values":[{}]},"mark":{"type":"text","text":"↑","align":"left","baseline":"middle","font":"DejaVu Sans Mono","fontSize":8.8,"color":"#e01010"},"encoding":{"x":{"datum":24.01,"type":"quantitative","scale":{"domain":[0.527,59.94],"nice":false,"zero":false},"axis":null},"y":{"datum":123,"type":"quantitative","title":null,"scale":{"domain":[-10.4,133.3],"nice":false,"zero":false},"axis":{"values":[0,20,50,80,100],"format":".2f","title":null,"labelFontSize":10,"labelPadding":1,"labelOverlap":false,"grid":true,"gridColor":"#d4d4d4"}}}},
{"data":{"values":[{}]},"mark":{"type":"text","text":"头条 @袁建新的财经人生","align":"left","baseline":"middle","font":"Noto Sans CJK SC","fontSize":16.5,"color":"white","stroke":"white","strokeWidth":3,"strokeOpacity":0.9},"encoding":{"x":{"datum":40.61,"type":"quantitative","scale":{"domain":[0.527,59.94],"nice":false,"zero":false},"axis":null},"y":{"datum":29.2,"type":"quantitative","title":null,"scale":{"domain":[-10.4,133.3],"nice":false,"zero":false},"axis":{"values":[0,20,50,80,100],"format":".2f","title":null,"labelFontSize":10,"labelPadding":1,"labelOverlap":false,"grid":true,"gridColor":"#d4d4d4"}}}},
{"data":{"values":[{}]},"mark":{"type":"text","text":"头条 @袁建新的财经人生","align":"left","baseline":"middle","font":"Noto Sans CJK SC","fontSize":16.5,"color":"#3a3a3a"},"encoding":{"x":{"datum":40.61,"type":"quantitative","scale":{"domain":[0.527,59.94],"nice":false,"zero":false},"axis":null},"y":{"datum":29.2,"type":"quantitative","title":null,"scale":{"domain":[-10.4,133.3],"nice":false,"zero":false},"axis":{"values":[0,20,50,80,100],"format":".2f","title":null,"labelFontSize":10,"labelPadding":1,"labelOverlap":false,"grid":true,"gridColor":"#d4d4d4"}}}}
]}
]
}
